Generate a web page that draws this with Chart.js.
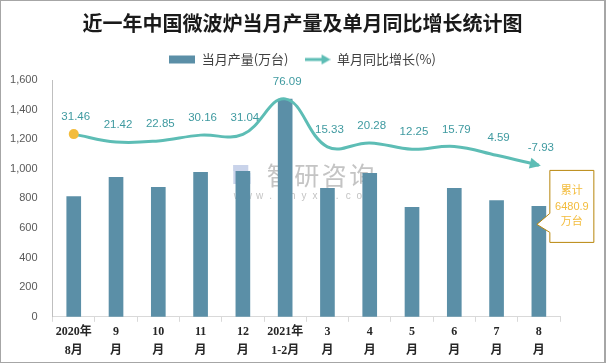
<!DOCTYPE html>
<html>
<head>
<meta charset="utf-8">
<script src="https://cdn.jsdelivr.net/npm/chart.js@4.4.1/dist/chart.umd.min.js"></script>
<style>
  html, body { margin:0; padding:0; background:#fff; }
  #wrap { width:606px; height:363px; box-sizing:border-box; border:1px solid #a6a6a6; border-right-width:2px; position:relative; }
</style>
</head>
<body>
<div id="wrap"><canvas id="c"></canvas></div>
<script>
// ── Data ────────────────────────────────────────────────────────────────
const MONTHS = [
  ['2020年','8月'], ['9','月'], ['10','月'], ['11','月'], ['12','月'], ['2021年','1-2月'],
  ['3','月'], ['4','月'], ['5','月'], ['6','月'], ['7','月'], ['8','月'],
];
const OUTPUT = [813, 942, 875, 976, 983, 1471, 868, 969, 739, 868, 786, 746];   // 万台
const YOY    = [31.46, 21.42, 22.85, 30.16, 31.04, 76.09, 15.33, 20.28, 12.25, 15.79, 4.59, -7.93];
const Y_TICKS = [0, 200, 400, 600, 800, 1000, 1200, 1400, 1600];
const CUMUL_TEXT = ['累计', '6480.9', '万台'];

const BAR_COL  = '#5B8FA7';
const LINE_COL = '#5DBDB5';
const LBL_COL  = '#3F9AA0';
const GOLD     = '#F3BC3C';
const FONT     = "'Liberation Sans','Noto Sans CJK SC',sans-serif";
const CJK      = "'Noto Sans CJK SC',sans-serif";

// legend swatches
function swatch(kind) {
  const c = document.createElement('canvas');
  c.width = 26; c.height = 12;
  const g = c.getContext('2d');
  if (kind === 'bar') {
    g.fillStyle = BAR_COL; g.fillRect(0, 2, 26, 8);
  } else {
    g.strokeStyle = LINE_COL; g.lineWidth = 3;
    g.beginPath(); g.moveTo(0, 6); g.lineTo(19, 6); g.stroke();
    g.fillStyle = LINE_COL;
    g.beginPath(); g.moveTo(26, 6); g.lineTo(17, 1); g.lineTo(17, 11); g.closePath(); g.fill();
  }
  return c;
}

// a bit more room under the legend
const legendGap = {
  id: 'legendGap',
  beforeInit(chart) {
    const fit = chart.legend.fit;
    chart.legend.fit = function () { fit.call(this); this.height += 4; };
  }
};

// ── Extras: watermark (behind), labels, arrow head, callout ─────────────
const extras = {
  id: 'extras',
  beforeDatasetsDraw(chart) {
    const { ctx, chartArea: a } = chart;
    const wx = (a.left + a.right) / 2 - 73, wy = 163;
    ctx.save();
    // logo
    ctx.fillStyle = '#c9d3ea';
    ctx.fillRect(wx, wy + 1, 9, 19);
    ctx.fillRect(wx, wy + 1, 15, 6);
    ctx.fillStyle = '#b7c9e6';
    ctx.fillRect(wx + 11, wy + 9, 6, 11);
    ctx.fillStyle = '#d6dff0';
    ctx.fillRect(wx + 5, wy + 13, 12, 7);
    // name + url
    ctx.fillStyle = '#c4c4c4';
    ctx.font = "25px " + CJK;
    ctx.textAlign = 'center'; ctx.textBaseline = 'middle';
    '智研咨询'.split('').forEach((ch, i) => ctx.fillText(ch, wx + 46 + i * 27.5, wy + 11));
    ctx.font = "10px " + FONT;
    ctx.fillStyle = '#c4c4c4';
    'www.chyxx.com'.split('').forEach((ch, i) => ctx.fillText(ch, wx + 4 + i * 11.1, wy + 32));
    ctx.restore();
  },
  afterDatasetsDraw(chart) {
    const { ctx } = chart;
    const line = chart.getDatasetMeta(1).data;
    const bars = chart.getDatasetMeta(0).data;
    ctx.save();

    // arrow head at the last point
    const last = line[line.length - 1];
    const ang = Math.atan2(last.y - last.cp1y, last.x - last.cp1x);
    ctx.fillStyle = LINE_COL;
    ctx.translate(last.x + 2 * Math.cos(ang), last.y + 2 * Math.sin(ang));
    ctx.rotate(ang);
    ctx.beginPath(); ctx.moveTo(0, 0); ctx.lineTo(-11, -5.5); ctx.lineTo(-11, 5.5); ctx.closePath(); ctx.fill();
    ctx.setTransform(1, 0, 0, 1, 0, 0);

    // value labels
    ctx.font = "11.5px " + FONT;
    ctx.fillStyle = LBL_COL;
    ctx.textAlign = 'center'; ctx.textBaseline = 'middle';
    line.forEach((p, i) => ctx.fillText(YOY[i].toFixed(2), p.x + 2, p.y - 17));

    // callout next to the last bar
    const b = bars[bars.length - 1];
    const bx = b.x + 11, by = b.y - 36, bw = 44, bh = 72;
    const tipX = b.x - 2, tipY = b.y + 18;
    ctx.beginPath();
    ctx.moveTo(bx, by); ctx.lineTo(bx + bw, by); ctx.lineTo(bx + bw, by + bh); ctx.lineTo(bx, by + bh);
    ctx.lineTo(bx, tipY + 8); ctx.lineTo(tipX, tipY); ctx.lineTo(bx, tipY - 11); ctx.closePath();
    ctx.fillStyle = '#fff'; ctx.fill();
    ctx.strokeStyle = '#B8860B'; ctx.lineWidth = 1; ctx.stroke();
    ctx.fillStyle = GOLD;
    ctx.font = "11px " + FONT;
    CUMUL_TEXT.forEach((t, i) => ctx.fillText(t, bx + bw / 2, by + 21 + i * 15.5));
    ctx.restore();
  }
};

new Chart(document.getElementById('c'), {
  data: {
    labels: MONTHS,
    datasets: [
      { type:'bar', label:'当月产量(万台)', data:OUTPUT, backgroundColor:BAR_COL,
        barThickness:14, yAxisID:'y', order:2 },
      { type:'line', label:'单月同比增长(%)', data:YOY, borderColor:LINE_COL, borderWidth:3,
        tension:0.4, fill:false, yAxisID:'y2', order:1,
        pointRadius:YOY.map((v, i) => i === 0 ? 5 : 0),
        pointBackgroundColor:GOLD, pointBorderColor:GOLD, pointBorderWidth:0 },
    ],
  },
  plugins: [legendGap, extras],
  options: {
    responsive:true, maintainAspectRatio:false, animation:false,
    layout:{ padding:{ left:0, right:0, top:0, bottom:1 } },
    plugins: {
      title: { display:true, text:'近一年中国微波炉当月产量及单月同比增长统计图', color:'#1a1a1a',
        font:{ family:CJK, size:20, weight:'bold' }, padding:{ top:10, bottom:2 } },
      legend: {
        labels: {
          color:'#404040', font:{ family:CJK, size:13 },
          usePointStyle:true, pointStyleWidth:26, padding:16,
          generateLabels: (chart) => chart.data.datasets.map((d, i) => ({
            text:d.label, pointStyle:swatch(i === 0 ? 'bar' : 'line'), datasetIndex:i,
            fontColor:'#404040', lineWidth:0, strokeStyle:'transparent', fillStyle:'transparent',
          })),
        },
      },
      tooltip: { enabled:false },
    },
    scales: {
      x: {
        grid:{ drawOnChartArea:false, color:'#d9d9d9', tickLength:5, offset:true },
        border:{ color:'#d9d9d9' },
        ticks:{ color:'#262626', padding:1, maxRotation:0, autoSkip:false,
          font:{ family:"'Liberation Serif','Noto Sans CJK SC',serif", size:12, weight:'bold', lineHeight:1.55 } },
      },
      y: {
        min:0, max:1600,
        afterBuildTicks: (ax) => { ax.ticks = Y_TICKS.map(v => ({ value:v })); },
        afterFit: (ax) => { ax.width = 51.6; },
        grid:{ display:false },
        border:{ display:true, color:'#bfbfbf' },
        ticks:{ color:'#595959', padding:7, font:{ family:FONT, size:11 } },
      },
      y2: {
        position:'right', min:-200, max:100,
        grid:{ display:false }, border:{ display:false }, ticks:{ display:false },
        afterFit: (ax) => { ax.width = 44; },
      },
    },
  },
});
</script>
</body>
</html>
